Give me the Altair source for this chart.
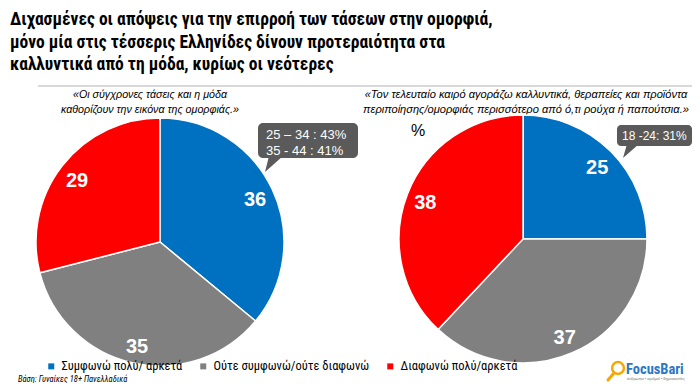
import altair as alt
import pandas as pd

# ---------------- data ----------------
categories = ["Συμφωνώ πολύ/ αρκετά", "Ούτε συμφωνώ/ούτε διαφωνώ", "Διαφωνώ πολύ/αρκετά"]
colors = ["#0070C0", "#808080", "#FF0000"]
left_values = [36, 35, 29]
right_values = [25, 37, 38]
order_idx = [0, 1, 2]

title_lines = [
    "Διχασμένες οι απόψεις για την επιρροή των τάσεων στην ομορφιά,",
    "μόνο μία στις τέσσερις Ελληνίδες δίνουν προτεραιότητα στα",
    "καλλυντικά από τη μόδα, κυρίως οι νεότερες",
]
left_quote = ["«Οι σύγχρονες τάσεις και η μόδα", "καθορίζουν την εικόνα της ομορφιάς.»"]
right_quote = [
    "«Τον τελευταίο καιρό αγοράζω καλλυντικά, θεραπείες και προϊόντα",
    "περιποίησης/ομορφιάς περισσότερο από ό,τι ρούχα ή παπούτσια.»",
]
left_callout = ["25 – 34 : 43%", "35 - 44 :  41%"]
right_callout = ["18 -24: 31%"]
pct_label = "%"
base_note = "Βάση: Γυναίκες 18+ Πανελλαδικά"
logo_text = "FocusBari"
logo_tag = "άνθρωποι • αριθμοί • δημοσκοπίες"

# ---------------- helpers ----------------
NARROW = "Roboto Condensed"
SANS = "Liberation Sans"


def X(v):
    return v - 8


def Y(v):
    return v - 8


one = pd.DataFrame({"k": [0]})

legend = alt.Legend(
    title=None, orient="none", legendX=X(45), legendY=Y(360), direction="horizontal",
    symbolType="square", symbolSize=36, symbolStrokeWidth=0, labelFont=NARROW,
    labelFontSize=12.5, labelColor="#000000", columnPadding=14, labelOffset=4, padding=0,
    labelLimit=400,
)
color = alt.Color("cat:N", scale=alt.Scale(domain=categories, range=colors), legend=legend)


def pie(values, cx, cy, r):
    df = pd.DataFrame({"cat": categories, "value": values, "ord": order_idx})
    base = alt.Chart(df)
    arcs = base.mark_arc(outerRadius=r, stroke="white", strokeWidth=1.5).encode(
        theta=alt.Theta("value:Q", stack=True),
        color=color,
        order=alt.Order("ord:Q"),
        x=alt.value(X(cx)), y=alt.value(Y(cy)),
    )
    labels = base.mark_text(
        radius=105, dy=3, font=SANS, fontSize=20, fontWeight="bold", color="white",
        align="center", baseline="middle",
    ).encode(
        theta=alt.Theta("value:Q", stack=True),
        detail="cat:N",
        order=alt.Order("ord:Q"),
        text=alt.Text("value:Q"),
        x=alt.value(X(cx)), y=alt.value(Y(cy)),
    )
    return [arcs, labels]


def text(lines, x, y, **kw):
    return alt.Chart(one).mark_text(text=lines, **kw).encode(
        x=alt.value(X(x)), y=alt.value(Y(y))
    )


layers = []

# top separator line
layers.append(
    alt.Chart(one).mark_rule(color="#d9d9d9", strokeWidth=2).encode(
        x=alt.value(X(38)), x2=alt.value(X(692)), y=alt.value(Y(86))
    )
)

# title
layers.append(text(title_lines, 10, 25, font=NARROW, fontSize=17.5, fontWeight="bold",
                   align="left", baseline="alphabetic", lineHeight=22.5, color="#000000"))

# quotes
layers.append(text(left_quote, 150, 98, font=SANS, fontSize=10.7, fontStyle="italic",
                   align="center", baseline="alphabetic", lineHeight=15, color="#000000"))
layers.append(text(right_quote, 526, 98, font=SANS, fontSize=11.1, fontStyle="italic",
                   align="center", baseline="alphabetic", lineHeight=15, color="#000000"))

# pies
layers += pie(left_values, 160, 242, 124)
layers += pie(right_values, 523, 239, 124)

# percent sign
layers.append(text(pct_label, 418, 131, font=SANS, fontSize=16, align="center",
                   baseline="middle", color="#000000"))

# callouts
CALLOUT = "#5a5a5a"
layers.append(
    alt.Chart(one).mark_rect(color=CALLOUT, cornerRadius=5).encode(
        x=alt.value(X(258)), x2=alt.value(X(358)), y=alt.value(Y(123)), y2=alt.value(Y(158))
    )
)
layers.append(
    alt.Chart(one).mark_point(
        shape="M-0.556,-0.889L1,-0.889L-1,0.889Z", size=324, filled=True, opacity=1,
        color=CALLOUT, strokeWidth=0,
    ).encode(x=alt.value(X(274)), y=alt.value(Y(164)))
)
layers.append(text(left_callout, 266, 134.5, font=SANS, fontSize=13, align="left",
                   baseline="middle", lineHeight=16.5, color="white"))

layers.append(
    alt.Chart(one).mark_rect(color=CALLOUT, cornerRadius=4).encode(
        x=alt.value(X(617)), x2=alt.value(X(692)), y=alt.value(Y(125)), y2=alt.value(Y(146))
    )
)
layers.append(
    alt.Chart(one).mark_point(
        shape="M-0.5,-0.875L1,-0.875L-1,0.875Z", size=256, filled=True, opacity=1,
        color=CALLOUT, strokeWidth=0,
    ).encode(x=alt.value(X(631)), y=alt.value(Y(151)))
)
layers.append(text(right_callout, 622, 136, font=SANS, fontSize=12, align="left",
                   baseline="middle", color="white"))

# base note
layers.append(text(base_note, 18, 379, font=NARROW, fontSize=8.5, fontStyle="italic",
                   align="left", baseline="middle", color="#000000"))

# logo
ORANGE = "#F5A800"
layers.append(
    alt.Chart(one).mark_rule(color=ORANGE, strokeWidth=3, strokeCap="round").encode(
        x=alt.value(X(614)), y=alt.value(Y(373)), x2=alt.value(X(608)), y2=alt.value(Y(380))
    )
)
layers.append(
    alt.Chart(one).mark_point(shape="circle", size=140, filled=False, color=ORANGE,
                              strokeWidth=2.5, opacity=1).encode(
        x=alt.value(X(618)), y=alt.value(Y(368))
    )
)
layers.append(text(logo_text, 626, 370, font=NARROW, fontSize=14.5, fontWeight="bold",
                   align="left", baseline="middle", color="#2B78C5"))
layers.append(text(logo_tag, 627, 378.5, font=SANS, fontSize=3.8, align="left",
                   baseline="middle", color="#777777"))

chart = (
    alt.layer(*layers)
    .properties(width=684, height=375, autosize="none", padding=0, background="white")
    .configure_view(stroke=None)
)

chart.save("out.html", embed_options={"renderer": "svg", "actions": False})
